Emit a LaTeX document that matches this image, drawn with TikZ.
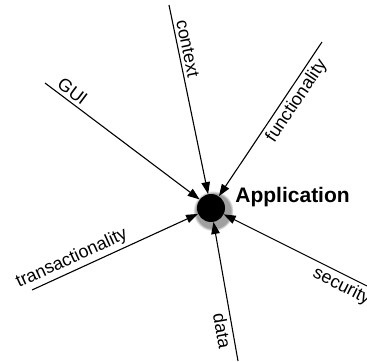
\documentclass[tikz,border=0pt]{standalone}
\usepackage{fontspec}
\setmainfont{Liberation Sans}
\usetikzlibrary{arrows.meta,positioning,shadows}

\begin{document}
\begin{tikzpicture}[
    x=1bp, y=1bp,
    hub/.style={circle, fill=black, minimum size=28bp, inner sep=0pt,
        circular drop shadow={shadow xshift=1.5bp, shadow yshift=-2bp, shadow scale=1.45, opacity=0.75}},
    hubname/.style={font=\fontsize{21bp}{24bp}\selectfont\bfseries, inner sep=2bp},
    concern/.style={font=\fontsize{18bp}{21bp}\selectfont, sloped, inner sep=3bp},
    inflow/.style={-{Triangle[length=12bp,width=8.5bp]}, line width=1.1bp}
]
\useasboundingbox (0,0) rectangle (367,362);
\node[hub] (app) at (211,154) {};
\node[hubname, right=8bp of app, yshift=10.5bp] (appname) {Application};

% loose ends of the spokes
\coordinate (gui) at (45,279);
\coordinate (context) at (169,357);
\coordinate (functionality) at (322,320);
\coordinate (transactionality) at (32,72);
\coordinate (data) at (238,1);
\coordinate (security) at (367,76);

\draw[inflow] (gui) -- node[concern, above, pos=0.14] {GUI} (app);
\draw[inflow] (context) -- node[concern, above, pos=0.24] {context} (app);
\draw[inflow] (functionality) -- node[concern, below, pos=0.34] {functionality} (app);
\draw[inflow] (transactionality) -- node[concern, above, pos=0.27] {transactionality} (app);
\draw[inflow] (data) -- node[concern, below, pos=0.23] {data} (app);
\draw[inflow] (security) -- node[concern, below, pos=0.14] {security} (app);
\end{tikzpicture}
\end{document}
